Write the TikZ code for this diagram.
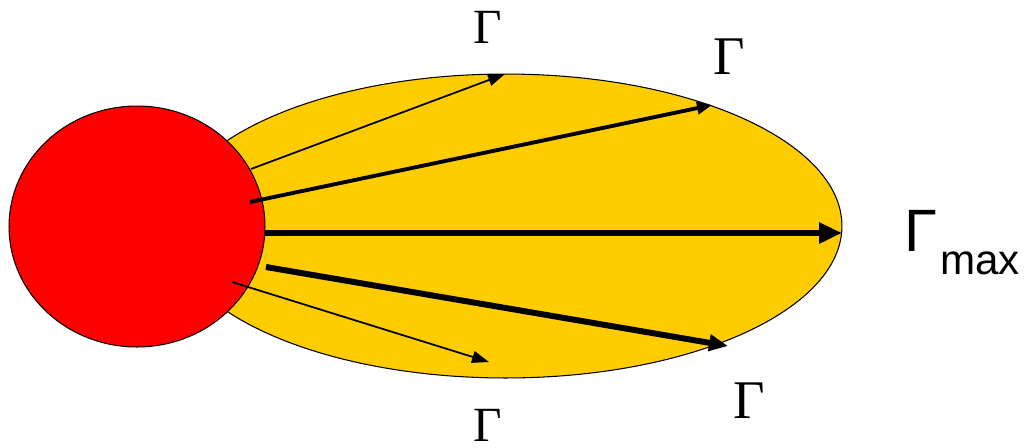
\documentclass[tikz,border=0pt]{standalone}
\usepackage{fontspec}
\setmainfont{Liberation Serif}
\setsansfont{Liberation Sans}
\usetikzlibrary{arrows.meta}
\usetikzlibrary{shapes.geometric}
\definecolor{sunred}{HTML}{FF0000}
\definecolor{lobeyellow}{HTML}{FFCC00}

\begin{document}
\begin{tikzpicture}[x=0.02cm, y=-0.02cm,
		lobe/.style	= {ellipse,	draw=black,	fill=lobeyellow,	line width=0.6pt,	inner sep=0pt,	outer sep=0pt,	minimum width=13.46cm,	minimum height=6.08cm},
		sun/.style	= {ellipse,	draw=black,	fill=sunred,		line width=0.6pt,	inner sep=0pt,	outer sep=0pt,	minimum width=5.12cm,	minimum height=4.82cm},
		g/.style	= {inner sep=0pt,	font=\fontsize{28}{28}\selectfont},
		G/.style	= {inner sep=0pt,	font=\fontsize{31}{31}\selectfont},
		rt/.style	= {-{Triangle[length=0.34cm, width=0.24cm]},	line width=1pt},
		rm/.style	= {-{Triangle[length=0.30cm, width=0.24cm]},	line width=2.2pt},
		rb/.style	= {-{Triangle[length=0.38cm, width=0.32cm]},	line width=3.4pt},
		rx/.style	= {-{Triangle[length=0.46cm, width=0.40cm]},	line width=3.8pt}
		]
		\useasboundingbox (0, 0) rectangle (1024, 447);
		
		%Nodes
		\node[lobe]	(lobe)	at	(505.5, 226)	{};
		\node[sun]	(sun)	at	(137, 226.5)	{};
		
		\coordinate	(s1)	at	(251, 169);
		\coordinate	(e1)	at	(505, 74);
		\coordinate	(s2)	at	(250, 202);
		\coordinate	(e2)	at	(712, 105);
		\coordinate	(s3)	at	(265, 233);
		\coordinate	(e3)	at	(842, 233);
		\coordinate	(s4)	at	(266, 267);
		\coordinate	(e4)	at	(728, 346);
		\coordinate	(s5)	at	(232, 282);
		\coordinate	(e5)	at	(489, 362);
		
		\node[g]	(g1)	at	(488, 27)	{Γ};
		\node[G]	(g2)	at	(729, 57)	{Γ};
		\node[G]	(g4)	at	(749, 400.5)	{Γ};
		\node[g]	(g5)	at	(488, 425)	{Γ};
		\node[inner sep=0pt, anchor=base west, font=\sffamily]	(gmax)	at	(904, 251)
			{{\fontsize{34}{34}\selectfont Γ}\hspace{0.06cm}\raisebox{-0.46cm}{\fontsize{24}{24}\selectfont max}};
		
		%Lines
		\draw[rt]	(s1)	to	(e1);
		\draw[rm]	(s2)	to	(e2);
		\draw[rx]	(s3)	to	(e3);
		\draw[rb]	(s4)	to	(e4);
		\draw[rt]	(s5)	to	(e5);
	\end{tikzpicture}
\end{document}
